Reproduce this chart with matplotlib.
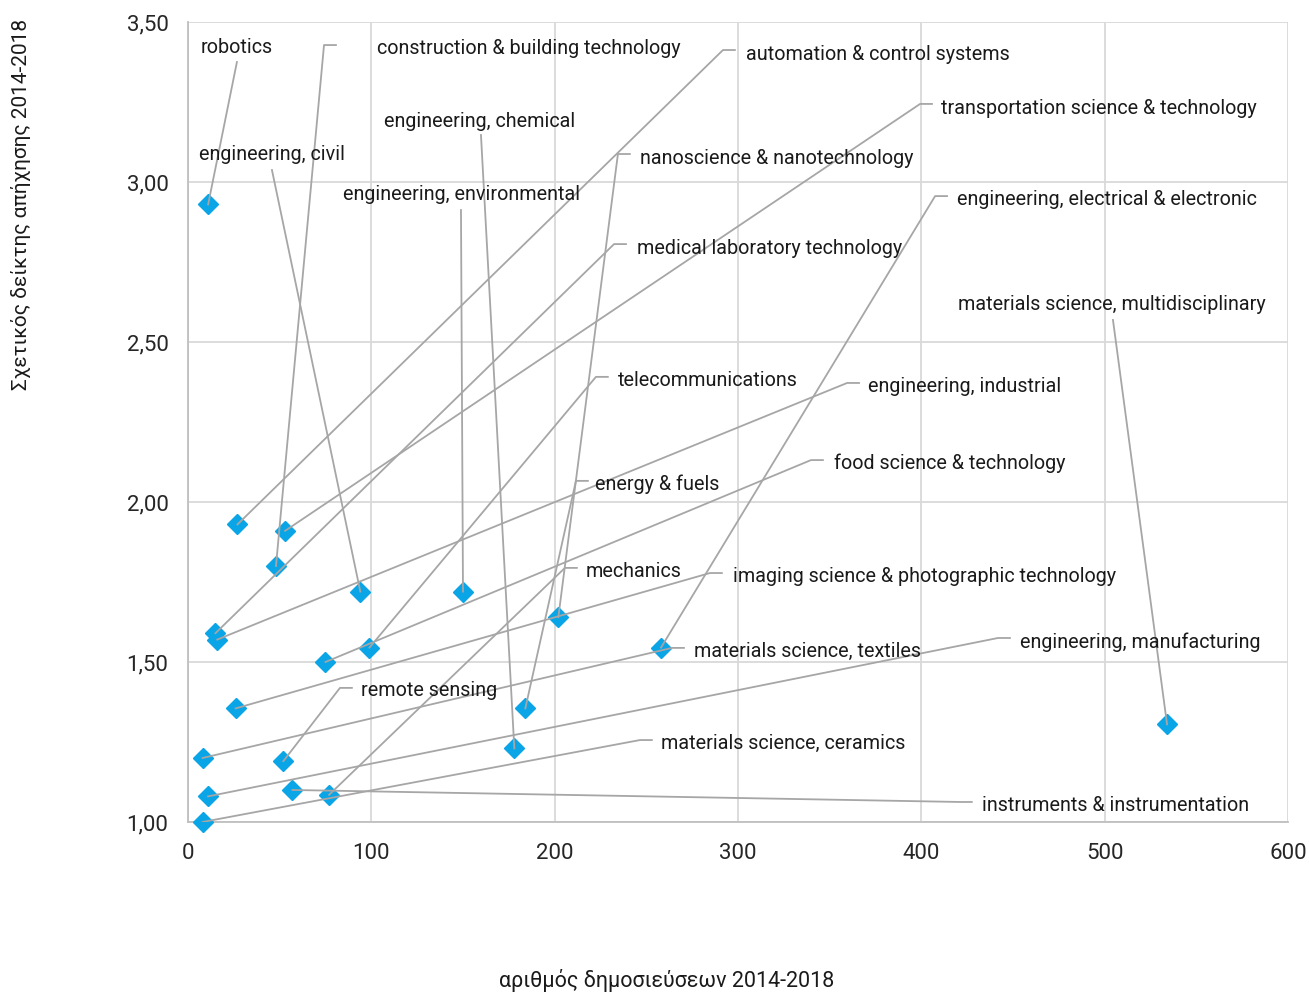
import matplotlib.pyplot as plt
from matplotlib.ticker import FuncFormatter, MultipleLocator

plt.rcParams['font.family'] = ['Roboto', 'DejaVu Sans']

# field names, number of publications and relative citation index
fields = ['robotics', 'automation & control systems', 'transportation science & technology',
          'construction & building technology', 'medical laboratory technology',
          'engineering, industrial', 'engineering, civil', 'engineering, environmental',
          'nanoscience & nanotechnology', 'food science & technology', 'telecommunications',
          'engineering, electrical & electronic', 'imaging science & photographic technology',
          'energy & fuels', 'engineering, chemical', 'materials science, textiles',
          'remote sensing', 'instruments & instrumentation', 'mechanics',
          'engineering, manufacturing', 'materials science, ceramics',
          'materials science, multidisciplinary']
publications = [11, 27, 53, 48, 15, 16, 94, 150, 202, 75, 99, 258, 26, 184, 178, 8, 52, 57, 77, 11, 8, 534]
citation_index = [2.93, 1.93, 1.91, 1.80, 1.59, 1.57, 1.72, 1.72, 1.64, 1.50, 1.545, 1.545,
                  1.355, 1.355, 1.23, 1.20, 1.19, 1.10, 1.085, 1.08, 1.00, 1.305]

# label layout: text anchor (x, y), leader elbow (x, y), style
# 'side' -> short horizontal stub then text to the right, 'below' -> line ends under centred text
label_layout = {
    'robotics': ((26.7, 3.419), (26.7, 3.375), 'below'),
    'construction & building technology': ((103.1, 3.416), (74.2, 3.428), 'side'),
    'automation & control systems': ((304.4, 3.399), (291.8, 3.4125), 'side'),
    'transportation science & technology': ((410.7, 3.230), (399.3, 3.244), 'side'),
    'engineering, chemical': ((159.0, 3.188), (159.8, 3.147), 'below'),
    'nanoscience & nanotechnology': ((246.5, 3.075), (234.5, 3.0875), 'side'),
    'engineering, civil': ((46.0, 3.085), (45.8, 3.0375), 'below'),
    'engineering, environmental': ((149.0, 2.960), (148.9, 2.9125), 'below'),
    'engineering, electrical & electronic': ((419.5, 2.944), (407.5, 2.956), 'side'),
    'medical laboratory technology': ((244.9, 2.793), (232.4, 2.806), 'side'),
    'materials science, multidisciplinary': ((504.0, 2.616), (504.5, 2.569), 'below'),
    'telecommunications': ((234.5, 2.380), (222.5, 2.391), 'side'),
    'engineering, industrial': ((370.9, 2.360), (359.5, 2.372), 'side'),
    'food science & technology': ((352.4, 2.120), (339.8, 2.131), 'side'),
    'energy & fuels': ((222.0, 2.055), (211.6, 2.066), 'side'),
    'mechanics': ((217.1, 1.783), (205.6, 1.794), 'side'),
    'imaging science & photographic technology': ((297.3, 1.767), (284.7, 1.778), 'side'),
    'materials science, textiles': ((276.0, 1.533), (264.0, 1.544), 'side'),
    'engineering, manufacturing': ((453.8, 1.563), (441.8, 1.575), 'side'),
    'remote sensing': ((94.4, 1.410), (82.9, 1.419), 'side'),
    'materials science, ceramics': ((258.0, 1.245), (246.5, 1.256), 'side'),
    'instruments & instrumentation': ((433.1, 1.053), (421.0, 1.0625), 'side'),
}

fig = plt.figure(figsize=(13.09, 9.92), dpi=100)
ax = fig.add_axes([0.1436, 0.1714, 0.8404, 0.8064])

ax.set_xlim(0, 600)
ax.set_ylim(1.0, 3.5)
ax.xaxis.set_major_locator(MultipleLocator(100))
ax.yaxis.set_major_locator(MultipleLocator(0.5))
ax.yaxis.set_major_formatter(FuncFormatter(lambda v, p: f'{v:.2f}'.replace('.', ',')))
ax.grid(True, color='#d9d9d9', linewidth=1.3, zorder=0)
ax.set_axisbelow(True)
for s in ['top', 'right']:
    ax.spines[s].set_visible(False)
for s in ['left', 'bottom']:
    ax.spines[s].set_color('#bfbfbf')
    ax.spines[s].set_linewidth(1.3)
ax.tick_params(length=0, labelsize=16, colors='#262626', pad=14)
ax.tick_params(axis='x', pad=15)

ax.plot(publications, citation_index, 'D', color='#0aa5e6', ms=10.5, zorder=3, clip_on=False)

lead = dict(color='#a6a6a6', linewidth=1.3, zorder=4)
for name, px, py in zip(fields, publications, citation_index):
    (tx, ty), (ex, ey), style = label_layout[name]
    if style == 'side':
        ax.plot([px, ex, ex + 6.5], [py, ey, ey], **lead)
        ax.text(tx, ty, name, ha='left', va='center', fontsize=14.2, color='#1a1a1a', zorder=5)
    else:
        ax.plot([px, ex], [py, ey], **lead)
        ax.text(tx, ty, name, ha='center', va='center', fontsize=14.2, color='#1a1a1a', zorder=5)

fig.text(0.509, 0.012, 'αριθμός δημοσιεύσεων 2014-2018', ha='center', va='center',
         fontsize=15.5, color='#1a1a1a')
fig.text(0.016, 0.794, 'Σχετικός δείκτης απήχησης 2014-2018', rotation=90, ha='center', va='center',
         fontsize=15, color='#1a1a1a')

fig.savefig('out.png', dpi=100)
